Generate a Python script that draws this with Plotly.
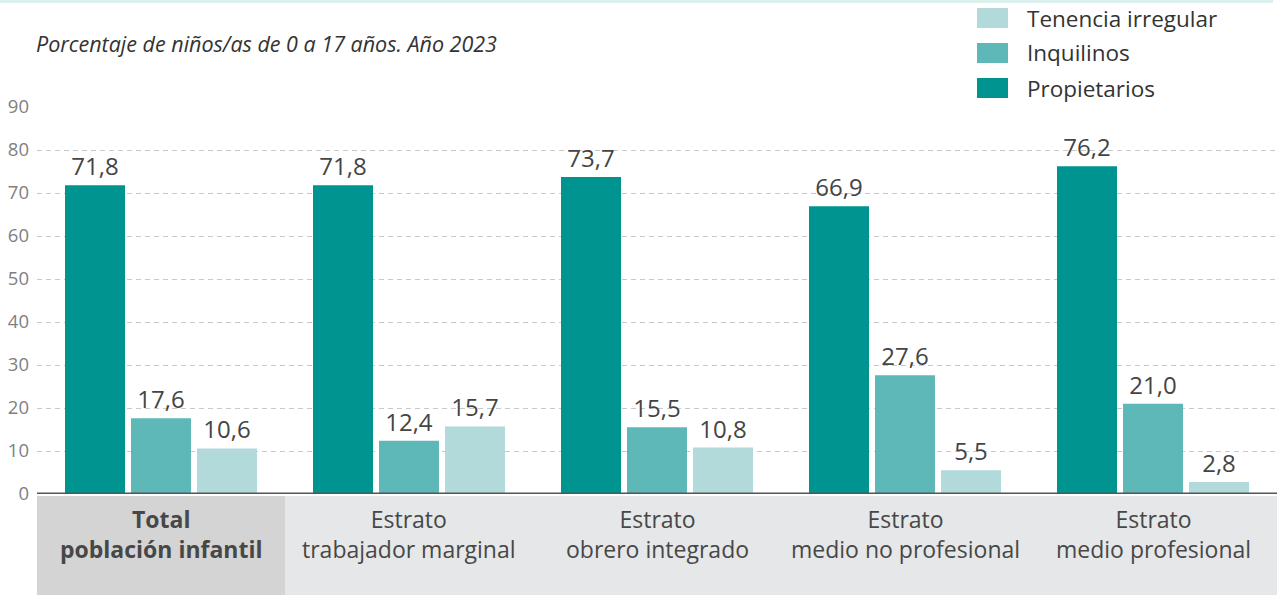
import plotly.graph_objects as go

# Data: housing tenure of children aged 0-17 by social stratum, 2023
categorias = [
    "Total<br>población infantil",
    "Estrato<br>trabajador marginal",
    "Estrato<br>obrero integrado",
    "Estrato<br>medio no profesional",
    "Estrato<br>medio profesional",
]
categorias_negrita = [True, False, False, False, False]

series = ["Propietarios", "Inquilinos", "Tenencia irregular"]
propietarios = [71.8, 71.8, 73.7, 66.9, 76.2]
inquilinos = [17.6, 12.4, 15.5, 27.6, 21.0]
tenencia_irregular = [10.6, 15.7, 10.8, 5.5, 2.8]
valores = [propietarios, inquilinos, tenencia_irregular]
colores = ["#009490", "#5fb8b8", "#b3dadb"]

ticks_y = [0, 10, 20, 30, 40, 50, 60, 70, 80, 90]

W, H = 1283, 595
M_L, M_R, M_T, M_B = 37, 6, 107, 101
PLOT_H = H - M_T - M_B
FONT = "'Open Sans', 'Noto Sans', sans-serif"


def py(pix):
    """Pixel row (from top of page) to paper y."""
    return (H - M_B - pix) / PLOT_H


def px(pix):
    """Pixel column to paper x."""
    return (pix - M_L) / (W - M_L - M_R)


def fmt(v):
    return f"{v:.1f}".replace(".", ",")


x_idx = list(range(len(categorias)))

fig = go.Figure()
for nombre, vals, col in zip(series, valores, colores):
    fig.add_trace(go.Bar(
        x=x_idx, y=vals, name=nombre,
        marker=dict(color=col, line=dict(width=0)),
        text=[fmt(v) for v in vals],
        textposition="outside",
        textfont=dict(family=FONT, size=24, color="#444444"),
        cliponaxis=False,
        showlegend=False,
    ))

shapes = []
annotations = []

# light band across the top edge
shapes.append(dict(type="rect", xref="paper", yref="paper",
                   x0=px(0), x1=px(1273), y0=py(3), y1=py(0),
                   fillcolor="#dcefef", line=dict(width=0), layer="below"))

# category label panels
for i, negrita in enumerate(categorias_negrita):
    shapes.append(dict(type="rect", xref="x", yref="paper",
                       x0=i - 0.5, x1=i + 0.5, y0=py(H), y1=py(496),
                       fillcolor="#d4d4d4" if negrita else "#e6e7e9",
                       line=dict(width=0), layer="below"))
    texto = categorias[i]
    if negrita:
        texto = "<b>" + texto.replace("<br>", "</b><br><b>") + "</b>"
    annotations.append(dict(x=i, y=py(534), xref="x", yref="paper",
                            text=texto, showarrow=False, xanchor="center",
                            yanchor="middle", align="center",
                            font=dict(family=FONT, size=23, color="#474747")))

# baseline
shapes.append(dict(type="line", xref="paper", yref="y", x0=0, x1=1,
                   y0=0, y1=0, line=dict(color="#555555", width=3)))

# legend drawn as swatches + labels, top right
for k, (nombre, col) in enumerate(zip(reversed(series), reversed(colores))):
    yc = 18 + k * 35
    shapes.append(dict(type="rect", xref="paper", yref="paper",
                       x0=px(977), x1=px(1008), y0=py(yc + 10), y1=py(yc - 10),
                       fillcolor=col, line=dict(width=0)))
    annotations.append(dict(x=px(1025), y=py(yc), xref="paper", yref="paper",
                            text=nombre, showarrow=False, xanchor="left",
                            yanchor="middle",
                            font=dict(family=FONT, size=22.5, color="#333333")))

# subtitle
annotations.append(dict(x=px(34), y=py(43), xref="paper", yref="paper",
                        text="<i>Porcentaje de niños/as de 0 a 17 años. Año 2023</i>",
                        showarrow=False, xanchor="left", yanchor="middle",
                        font=dict(family=FONT, size=21.5, color="#333333")))

fig.update_layout(
    width=W, height=H,
    margin=dict(l=M_L, r=M_R, t=M_T, b=M_B, pad=0),
    paper_bgcolor="white", plot_bgcolor="white",
    barmode="group", bargap=50 / 248, bargroupgap=6 / 66,
    shapes=shapes, annotations=annotations,
    xaxis=dict(range=[-0.5, 4.5], showticklabels=False, showgrid=False,
               zeroline=False, showline=False, fixedrange=True),
    yaxis=dict(range=[0, 90], tickvals=ticks_y, showgrid=True,
               gridcolor="#c8c8c8", griddash="5px,4px", gridwidth=1,
               zeroline=False, showline=False, ticks="", ticklabelstandoff=7,
               tickfont=dict(family=FONT, size=18.5, color="#7f7f7f")),
    font=dict(family=FONT),
)

fig.write_html("out.html")
